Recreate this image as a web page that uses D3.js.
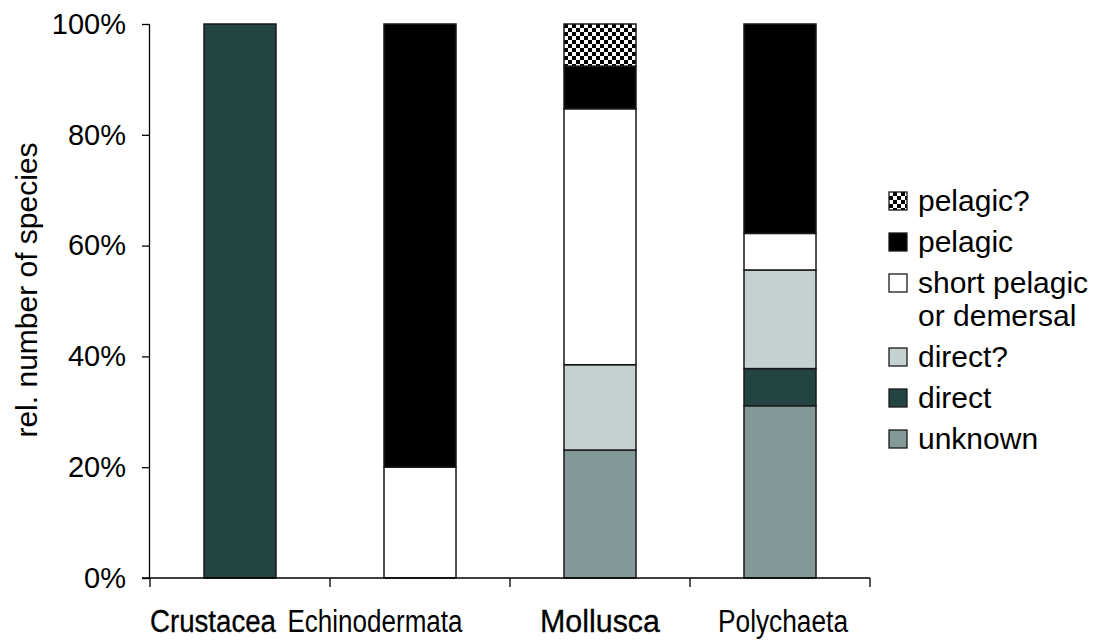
<!DOCTYPE html>
<html>
<head>
<meta charset="utf-8">
<script src="https://cdn.jsdelivr.net/npm/d3@7"></script>
<style>
  html, body { margin: 0; padding: 0; background: #fff; }
  svg { display: block; font-family: "Liberation Sans", Arial, sans-serif; }
</style>
</head>
<body>
<svg id="chart" width="1097" height="642"></svg>
<script>
// ---- data ----
const categories = ["Crustacea", "Echinodermata", "Mollusca", "Polychaeta"];
const seriesNames = ["unknown", "direct", "direct?", "short pelagic or demersal", "pelagic", "pelagic?"];
const unknown   = [0,   0,  23.1, 31.1];
const direct    = [100, 0,  0,    6.7];
const directQ   = [0,   0,  15.4, 17.8];
const shortPel  = [0,   20, 46.2, 6.6];
const pelagic   = [0,   80, 7.7,  37.8];
const pelagicQ  = [0,   0,  7.6,  0];
const yTicks = [0, 20, 40, 60, 80, 100];
const legendOrder = ["pelagic?", "pelagic", "short pelagic or demersal", "direct?", "direct", "unknown"];
const legendLines = {"short pelagic or demersal": ["short pelagic", "or demersal"]};

const seriesValues = [unknown, direct, directQ, shortPel, pelagic, pelagicQ];

// ---- drawing ----
const svg = d3.select("#chart");
const pLeft = 150, pRight = 870, pTop = 24, pBottom = 578;

const fills = {
  "unknown": "#829998",
  "direct": "#244441",
  "direct?": "#c5d1d1",
  "short pelagic or demersal": "#ffffff",
  "pelagic": "#000000",
  "pelagic?": "url(#checker)"
};

const defs = svg.append("defs");
const pat = defs.append("pattern").attr("id", "checker")
  .attr("patternUnits", "userSpaceOnUse").attr("width", 8).attr("height", 8);
pat.append("rect").attr("width", 8).attr("height", 8).attr("fill", "#000");
pat.append("rect").attr("x", 0).attr("y", 0).attr("width", 4).attr("height", 4).attr("fill", "#fff");
pat.append("rect").attr("x", 4).attr("y", 4).attr("width", 4).attr("height", 4).attr("fill", "#fff");

const x = d3.scaleBand().domain(categories).range([pLeft, pRight])
  .paddingInner(0.6).paddingOuter(0.3);
const y = d3.scaleLinear().domain([0, 100]).range([pBottom, pTop]);

// stacked data
const table = categories.map((c, i) => {
  const row = {cat: c};
  seriesNames.forEach((s, j) => row[s] = seriesValues[j][i]);
  return row;
});
const stack = d3.stack().keys(seriesNames)(table);

const layers = svg.append("g").selectAll("g").data(stack).join("g")
  .attr("fill", d => fills[d.key]);
layers.selectAll("rect").data(d => d.filter(p => p[1] - p[0] > 0))
  .join("rect")
  .attr("x", d => x(d.data.cat))
  .attr("width", x.bandwidth())
  .attr("y", d => y(d[1]))
  .attr("height", d => y(d[0]) - y(d[1]))
  .attr("stroke", "#1a1a1a")
  .attr("stroke-width", 1.5);

// y axis
const yAxis = d3.axisLeft(y).tickValues(yTicks).tickFormat(d => d + "%").tickSize(8).tickPadding(16);
const gy = svg.append("g").attr("transform", `translate(${pLeft},0)`).call(yAxis);
gy.select(".domain").attr("d", `M-0.5,${pTop}V${pBottom}`).attr("stroke", "#000").attr("stroke-width", 1.3);
gy.selectAll(".tick line").attr("stroke", "#000").attr("stroke-width", 1.3);
gy.selectAll(".tick text").attr("font-size", 29).attr("fill", "#000")
  .attr("font-family", "Liberation Sans, Arial, sans-serif");

// x axis (line + boundary ticks)
const gx = svg.append("g").attr("transform", `translate(0,${pBottom})`);
gx.append("line").attr("x1", pLeft - 8).attr("x2", pRight).attr("y1", 0).attr("y2", 0)
  .attr("stroke", "#000").attr("stroke-width", 1.3);
const step = x.step();
const bounds = d3.range(categories.length + 1).map(i => pLeft + i * step);
gx.selectAll("line.tk").data(bounds).join("line").attr("class", "tk")
  .attr("x1", d => d).attr("x2", d => d).attr("y1", 0).attr("y2", 9)
  .attr("stroke", "#000").attr("stroke-width", 1.3);
// label styling (reference uses a condensed face)
const labelShift = {"Crustacea": -27, "Echinodermata": -45, "Mollusca": 0, "Polychaeta": 3};
const labelLen = {"Crustacea": 126, "Echinodermata": 175, "Mollusca": 120, "Polychaeta": 130};
const labelHeavy = {"Crustacea": true, "Echinodermata": false, "Mollusca": true, "Polychaeta": false};
gx.selectAll("text").data(categories).join("text")
  .attr("x", d => x(d) + x.bandwidth() / 2 + labelShift[d])
  .attr("y", 54)
  .attr("text-anchor", "middle")
  .attr("font-size", 31)
  .attr("stroke", d => labelHeavy[d] ? "#000" : "none")
  .attr("stroke-width", 0.3)
  .attr("textLength", d => labelLen[d])
  .attr("lengthAdjust", "spacingAndGlyphs")
  .attr("fill", "#000")
  .text(d => d);

// y title
svg.append("text")
  .attr("transform", `translate(37,290) rotate(-90)`)
  .attr("text-anchor", "middle")
  .attr("font-size", 30)
  .attr("fill", "#000")
  .text("rel. number of species");

// legend
const lg = svg.append("g").attr("transform", "translate(889,192)");
let yy = 0;
legendOrder.forEach(name => {
  const lines = legendLines[name] || [name];
  lg.append("rect").attr("x", 0).attr("y", yy).attr("width", 18).attr("height", 18)
    .attr("fill", fills[name]).attr("stroke", "#1a1a1a").attr("stroke-width", 1.3);
  lines.forEach((t, k) => {
    lg.append("text").attr("x", 29).attr("y", yy + 19 + k * 33)
      .attr("font-size", 30).attr("fill", "#000").text(t);
  });
  yy += 41 + (lines.length - 1) * 33;
});
</script>
</body>
</html>
